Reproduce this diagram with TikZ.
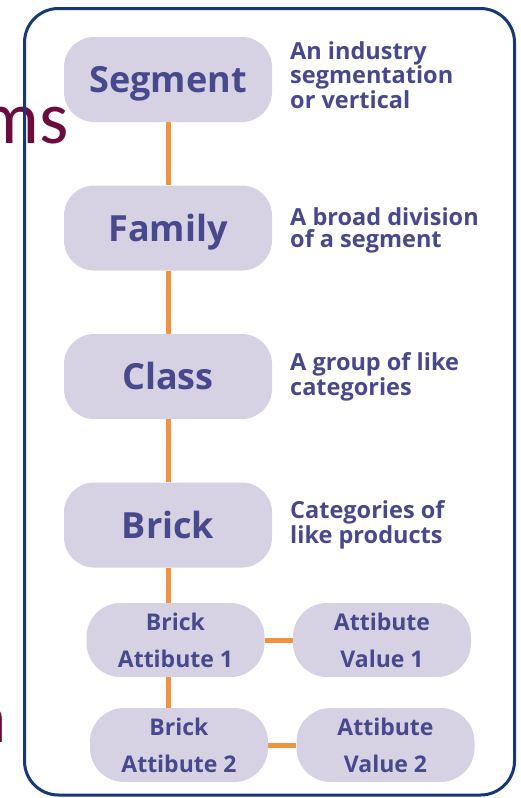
\documentclass[tikz,border=0pt]{standalone}
\usepackage{fontspec}
\setmainfont{Open Sans}
\newfontfamily\carl{Carlito}
\definecolor{boxfill}{RGB}{214,210,228}
\definecolor{txt}{RGB}{72,72,140}
\definecolor{linkorange}{RGB}{240,146,64}
\definecolor{navy}{RGB}{22,56,120}
\definecolor{maroon}{RGB}{108,12,60}
\tikzset{
  mainbox/.style={fill=boxfill, rounded corners=30pt, minimum width=208pt, minimum height=85pt,
    inner sep=0pt, text=txt, font=\fontsize{36}{40}\selectfont\bfseries, text height=26pt, text depth=0pt},
  smallbox/.style={fill=boxfill, rounded corners=34pt, minimum width=178pt, minimum height=74pt,
    inner sep=0pt, text=txt, font=\fontsize{23}{37}\selectfont\bfseries, align=center,
    text height=54pt, text depth=0pt},
  desc/.style={anchor=base west, inner sep=0pt, text=txt, font=\fontsize{23.5}{22}\selectfont\bfseries, align=left},
  link/.style={draw=linkorange, line width=5pt},
  slidetext/.style={anchor=base east, inner sep=0pt, text=maroon, font=\carl\fontsize{75}{80}\selectfont}
}
\begin{document}
\begin{tikzpicture}[x=1pt,y=-1pt]
\useasboundingbox (0,0) rectangle (520,798);
% fragments of slide text behind the figure
\node[slidetext] (ms) at (69,143) {ms};
\node[slidetext] (nfrag) at (7,742) {n};
% frame
\draw[draw=navy, line width=3pt, rounded corners=34pt] (24.5,8.5) rectangle (514.5,795);
% hierarchy
\node[mainbox] (segment) at (168,79.5) {Segment};
\node[mainbox] (family) at (168,228) {Family};
\node[mainbox] (class) at (168,376.5) {Class};
\node[mainbox] (brick) at (168,525) {Brick};
\node[smallbox] (ba1) at (175.5,640) {Brick\\Attibute 1};
\node[smallbox] (av1) at (382,640) {Attibute\\Value 1};
\node[smallbox] (ba2) at (179,745) {Brick\\Attibute 2};
\node[smallbox] (av2) at (385.5,745) {Attibute\\Value 2};
% descriptions (anchored at the baseline of the last line)
\node[desc] (dseg) at (290,108) {An industry\\segmentation\\or vertical};
\node[desc] (dfam) at (290,247) {A broad division\\of a segment};
\node[desc] (dcla) at (290,395) {A group of like\\categories};
\node[desc] (dbri) at (290,543) {Categories of\\like products};
% connectors
\draw[link] (segment.south) -- (family.north);
\draw[link] (family.south) -- (class.north);
\draw[link] (class.south) -- (brick.north);
\draw[link] (brick.south) -- (brick.south |- ba1.north);
\draw[link] (brick.south |- ba1.south) -- (brick.south |- ba2.north);
\draw[link] (ba1.east) -- (av1.west);
\draw[link] (ba2.east) -- (av2.west);
\end{tikzpicture}
\end{document}
